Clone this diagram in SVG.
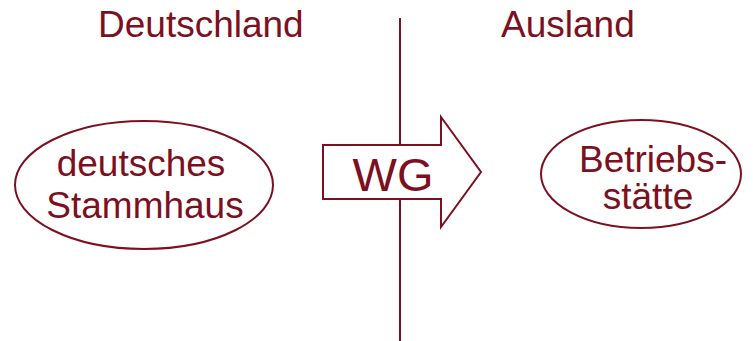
<svg xmlns="http://www.w3.org/2000/svg" width="753" height="341" viewBox="0 0 753 341">
<style>
.t{font-family:"Liberation Sans",Arial,sans-serif;font-size:37px;fill:#7d1020}
.s{fill:#fff;stroke:#7d1020;stroke-width:2}
</style>
<rect width="753" height="341" fill="#fff"/>
<g id="connectors">
<line x1="400" y1="18" x2="400" y2="341" stroke="#7d1020" stroke-width="2"/>
</g>
<g id="label-deutschland"><text class="t" x="98" y="37">Deutschland</text></g>
<g id="label-ausland"><text class="t" x="501" y="37">Ausland</text></g>
<g id="stammhaus">
<ellipse class="s" cx="144" cy="185" rx="129" ry="64"/>
<text class="t" x="141" y="176" text-anchor="middle">deutsches</text>
<text class="t" x="145" y="218" text-anchor="middle">Stammhaus</text>
</g>
<g id="wg">
<polygon class="s" points="323,145 441,145 441,117 481,172 441,227 441,199 323,199"/>
<text class="t" x="393" y="191" text-anchor="middle" style="font-size:47px">WG</text>
</g>
<g id="betriebsstaette">
<ellipse class="s" cx="641" cy="174" rx="100" ry="54"/>
<text class="t" x="653" y="172" text-anchor="middle">Betriebs-</text>
<text class="t" x="648" y="209" text-anchor="middle">stätte</text>
</g>
</svg>
